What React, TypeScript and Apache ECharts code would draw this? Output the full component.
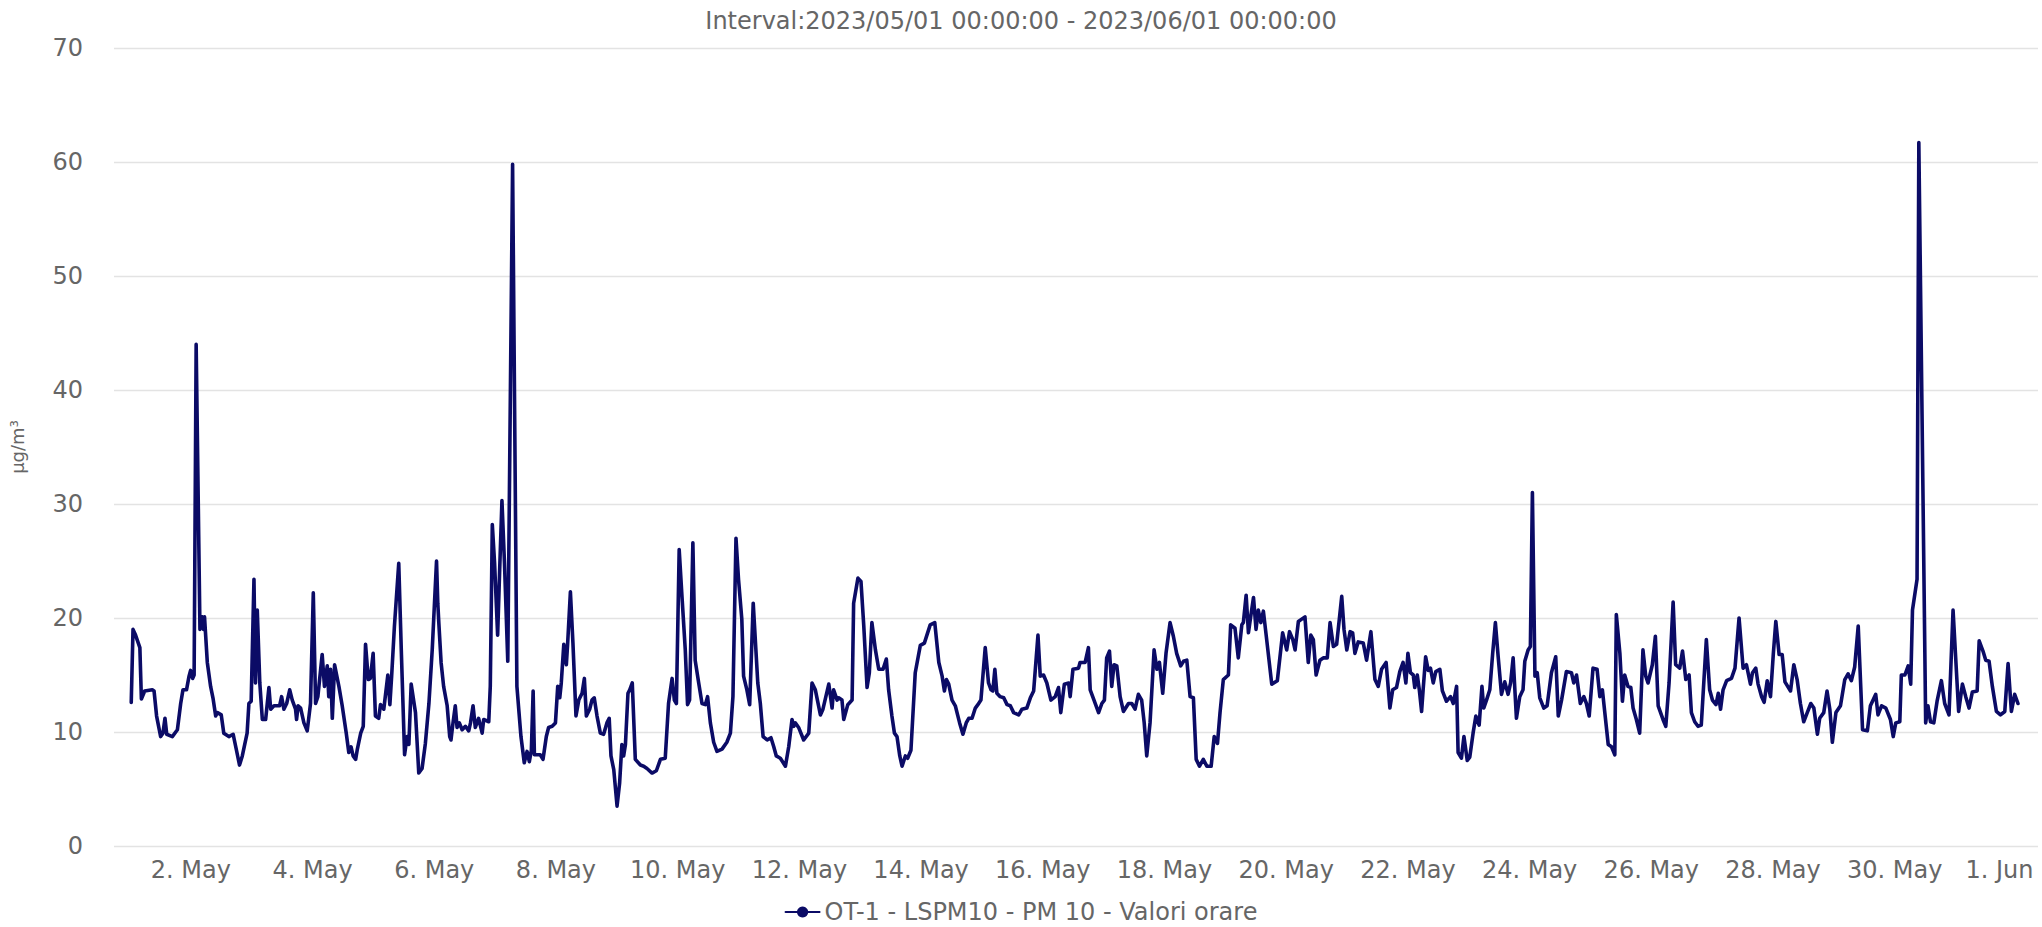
import { useEffect, useRef } from "react";
import * as echarts from "echarts";

// Hour offsets (hours since 2023-05-01 00:00) paired with PM10 values (µg/m³).
const week1: [number, number][] = [
  [0.5,12.6],[1.2,19.0],[2.2,18.5],[3.9,17.4],[4.5,12.9],[5.8,13.6],[8.8,13.7],[9.5,13.6],[10.5,11.4],[12.1,9.6],
  [13.0,9.9],[13.8,11.2],[14.5,9.8],[16.7,9.6],[18.7,10.2],[20.0,12.5],[20.9,13.7],[22.3,13.7],[23.3,14.9],[23.9,15.4],
  [24.7,14.7],[25.3,15.0],[26.1,44.0],[27.6,19.0],[28.5,20.1],[29.0,19.0],[29.4,20.1],[30.5,16.1],[31.8,14.0],[32.8,12.9],
  [33.8,11.4],[34.5,11.7],[36.0,11.5],[37.0,9.9],[39.0,9.6],[40.7,9.8],[42.0,8.4],[43.2,7.1],[44.3,7.9],[46.2,9.9],
  [46.9,12.5],[47.8,12.7],[48.9,23.4],[49.5,14.3],[50.2,20.7],[51.2,14.3],[52.2,11.1],[53.5,11.1],[54.8,13.9],[55.5,12.0],
  [56.8,12.3],[59.0,12.3],[59.8,13.1],[60.7,12.0],[61.8,12.5],[63.0,13.7],[64.0,12.8],[65.3,12.0],[65.7,11.1],[66.3,12.3],
  [67.3,12.1],[68.6,10.8],[69.9,10.1],[71.2,12.5],[72.3,22.2],[73.2,12.5],[74.1,13.1],[75.8,16.8],[76.7,14.0],[77.8,15.8],
  [78.4,13.1],[79.1,15.5],[79.8,11.2],[80.7,15.9],[82.4,14.0],[83.7,12.3],[85.3,9.9],[86.3,8.2],[87.2,8.7],[88.0,7.9],
  [89.0,7.6],[89.6,8.4],[91.0,9.9],[92.0,10.5],[92.9,17.7],[94.0,14.6],[94.8,14.7],[95.9,16.9],[96.8,11.4],[98.1,11.2],
  [98.8,12.4],[100.1,12.0],[101.7,15.0],[102.5,12.4],[103.2,14.9],[104.3,19.3],[106.0,24.8],[107.0,17.2],[108.3,8.0],[109.3,9.6],
  [110.0,8.9],[110.9,14.2],[112.6,11.7],[113.9,6.4],[115.2,6.8],[116.5,9.0],[117.9,12.5],[119.2,17.2],[120.9,25.0],[121.4,21.3],
  [121.8,19.6],[122.7,16.1],[123.7,14.0],[125.1,12.3],[126.1,9.6],[126.6,9.3],[127.4,10.8],[128.3,12.3],[129.0,10.4],[129.9,10.8],
  [131.0,10.2],[132.3,10.5],[133.6,10.1],[134.3,10.8],[135.3,12.3],[136.2,10.4],[137.5,11.2],[138.9,9.9],[139.5,11.1],[141.5,10.9],
  [142.1,14.0],[142.9,28.2],[143.8,24.8],[145.0,18.5],[145.8,24.2],[146.7,30.3],[147.7,24.8],[149.0,16.2],[150.9,59.8],[152.6,14.0],
  [154.2,9.6],[155.5,7.3],[156.6,8.3],[157.5,7.4],[158.3,8.4],[159.0,13.6],[159.5,8.0],[160.5,8.0],[161.8,8.0],[162.9,7.6],
  [164.2,9.6],[165.1,10.4],[166.5,10.5],[167.8,10.8],
];

const week2: [number, number][] = [
  [168.7,14.0],[169.5,13.0],[170.1,14.3],[171.1,17.7],[172.1,15.9],[172.6,17.7],[173.7,22.3],[174.7,17.8],[175.9,11.4],[177.0,12.8],
  [178.3,13.4],[179.2,14.7],[180.0,11.4],[181.3,12.0],[182.2,12.8],[183.1,13.0],[184.2,11.4],[185.5,9.9],[186.8,9.8],[188.1,10.8],
  [189.0,11.2],[189.7,7.9],[190.8,6.7],[192.1,3.5],[193.1,5.5],[194.0,8.9],[194.7,7.9],[195.4,8.9],[196.4,13.4],[197.1,13.7],
  [198.1,14.3],[199.3,7.6],[201.3,7.1],[202.6,7.0],[203.9,6.8],[205.9,6.4],[207.6,6.6],[209.2,7.6],[211.1,7.7],[212.4,12.5],
  [213.8,14.7],[214.7,12.8],[215.5,12.5],[216.6,26.0],[217.7,21.9],[219.0,17.2],[219.9,12.4],[220.7,12.8],[222.0,26.6],[222.9,16.3],
  [224.3,14.3],[225.6,12.5],[226.9,12.4],[227.8,13.1],[228.9,10.8],[230.2,9.1],[231.5,8.3],[233.5,8.5],[235.4,9.1],[236.8,9.9],
  [237.8,13.1],[239.0,27.0],[240.0,23.4],[241.3,19.9],[242.0,14.9],[243.3,13.7],[244.4,12.4],[245.8,21.3],[247.6,14.3],[248.6,12.5],
  [249.7,9.6],[251.3,9.3],[252.8,9.5],[253.9,8.7],[254.9,7.9],[256.5,7.7],[258.5,7.0],[259.8,8.7],[261.1,11.1],[261.8,10.5],
  [262.4,10.8],[263.7,10.4],[265.7,9.3],[267.7,9.9],[269.0,14.3],[270.3,13.7],[272.3,11.5],[273.3,12.0],[275.6,14.2],[276.9,12.1],
  [277.5,13.7],[278.9,12.8],[279.5,13.0],[280.8,12.8],[281.5,11.1],[283.1,12.4],[284.8,12.8],[285.4,21.3],[287.1,23.5],[288.3,23.2],
  [289.4,19.3],[290.7,13.9],[291.6,15.2],[292.6,19.6],[294.0,17.2],[295.3,15.5],[297.0,15.5],[298.3,16.4],[299.2,13.7],[300.5,11.4],
  [301.5,9.9],[302.5,9.6],[303.6,7.9],[304.5,7.0],[305.8,7.9],[306.7,7.7],[308.0,8.4],[309.7,15.2],[311.7,17.6],[313.3,17.8],
  [314.3,18.5],[315.6,19.4],[317.4,19.6],[319.0,16.1],[320.3,14.9],[321.2,13.6],[322.0,14.6],[322.9,14.2],[324.2,12.8],[325.5,12.3],
  [327.2,10.8],[328.5,9.8],[329.8,10.8],[330.8,11.2],[332.1,11.2],[333.4,12.1],[334.4,12.4],[335.6,12.8],
];

const week3: [number, number][] = [
  [337.3,17.4],[338.6,14.3],[339.6,13.7],[340.3,13.6],[341.1,15.5],[341.9,13.4],[343.2,13.1],[344.6,13.0],[345.9,12.4],[347.2,12.3],
  [348.5,11.7],[350.5,11.5],[351.8,12.0],[353.7,12.1],[355.1,13.0],[356.4,13.6],[358.1,18.5],[359.0,14.9],[360.3,15.0],[361.6,14.3],
  [363.2,12.8],[364.9,13.1],[366.2,13.9],[367.1,11.7],[368.5,14.2],[370.2,14.3],[370.8,13.1],[371.9,15.5],[374.1,15.6],[374.7,16.1],
  [376.7,16.1],[378.0,17.4],[378.7,13.7],[380.2,12.8],[382.0,11.7],[383.3,12.5],[384.3,12.8],[385.2,16.5],[386.3,17.1],[387.2,14.0],
  [388.1,15.9],[389.2,15.8],[390.5,13.1],[391.8,11.8],[393.8,12.5],[395.1,12.5],[396.4,12.0],[397.7,13.3],[399.0,12.8],[400.0,10.8],
  [401.0,7.9],[402.3,10.8],[403.9,17.2],[405.0,15.5],[406.0,16.1],[407.3,13.4],[408.6,16.9],[410.2,19.6],[411.5,18.4],[412.8,16.9],
  [414.4,15.8],[415.5,16.2],[416.8,16.3],[418.1,13.1],[419.4,13.0],[420.5,7.6],[421.8,7.0],[423.3,7.6],[424.7,7.0],[426.4,7.0],
  [427.6,9.6],[428.9,9.0],[429.9,11.7],[431.2,14.6],[433.2,15.0],[434.1,19.4],[435.8,19.1],[437.1,16.5],[438.5,19.4],[439.1,19.6],
  [440.2,22.0],[441.1,18.7],[442.0,20.1],[443.1,21.8],[444.1,19.0],[445.0,20.7],[446.0,19.6],[447.0,20.6],[448.3,18.1],[450.3,14.2],
  [452.5,14.5],[454.6,18.7],[456.2,17.2],[457.3,18.8],[458.6,18.1],[459.5,17.2],[460.8,19.7],[462.1,19.9],[463.4,20.1],[464.7,16.1],
  [465.7,18.5],[466.7,18.1],[467.8,15.0],[469.3,16.3],[470.6,16.5],[472.2,16.5],[473.3,19.6],[474.6,17.5],[475.9,17.7],[477.9,21.9],
  [478.8,19.0],[479.9,17.2],[481.2,18.8],[482.2,18.7],[483.1,16.9],[484.4,17.9],[486.4,17.8],[487.7,16.3],[489.4,18.8],[491.0,14.6],
  [492.3,14.0],[493.6,15.5],[495.4,16.1],[496.9,12.1],[498.0,13.7],[499.5,13.9],[500.8,15.3],[502.1,16.1],[503.2,14.3],
];

const week4: [number, number][] = [
  [504.0,16.9],[505.0,15.2],[506.1,15.0],[506.7,13.9],[507.7,15.0],[508.5,13.7],[509.4,11.8],[510.0,13.7],[511.0,16.6],[512.0,15.4],
  [512.9,15.6],[514.0,14.3],[515.0,15.3],[516.6,15.5],[517.6,13.6],[519.2,12.7],[520.8,13.1],[521.9,12.5],[523.2,14.0],[523.8,8.2],
  [525.1,7.7],[526.1,9.6],[527.4,7.5],[528.4,7.8],[529.7,9.9],[530.8,11.4],[532.1,10.6],[533.2,14.0],[533.9,12.1],[535.0,12.8],
  [536.3,13.7],[537.4,16.8],[538.5,19.6],[539.6,16.6],[540.9,13.3],[542.2,14.4],[543.5,13.3],[544.5,14.3],[545.5,16.5],[546.8,11.2],
  [548.1,13.1],[549.4,13.7],[550.1,16.2],[551.4,17.2],[552.3,17.5],[553.1,31.0],[554.1,14.9],[555.0,15.2],[556.0,13.0],[557.6,12.1],
  [558.9,12.3],[560.6,15.2],[562.3,16.6],[563.3,11.4],[564.6,12.8],[566.5,15.3],[568.5,15.2],[569.4,14.3],[570.5,15.0],[572.0,12.5],
  [573.4,13.1],[574.4,12.5],[575.5,11.4],[577.0,15.6],[578.6,15.5],[579.7,13.1],[580.7,13.7],[583.0,8.9],[584.3,8.7],[585.6,8.0],
  [586.2,20.3],[587.6,16.9],[588.6,12.7],[589.5,15.0],[590.8,14.0],[591.9,13.9],[592.8,12.1],[594.1,11.1],[595.4,9.9],[596.7,17.2],
  [597.8,14.9],[598.7,14.3],[600.4,15.9],[601.6,18.4],[602.7,12.3],[604.6,11.1],[605.7,10.5],[607.0,14.3],[608.6,21.4],[609.6,15.9],
  [611.2,15.6],[612.3,17.1],[613.6,14.6],[614.9,15.0],[615.8,11.7],[617.1,10.9],[618.4,10.5],[619.7,10.6],[621.7,18.1],[623.0,13.7],
  [624.1,12.8],[625.5,12.4],[626.4,13.4],[627.3,12.0],[628.3,13.7],[629.7,14.5],[631.6,14.7],[633.0,15.6],[634.6,20.0],[636.2,15.6],
  [637.5,15.9],[639.1,14.2],[639.9,15.2],[641.2,15.6],[642.1,14.2],[643.5,13.1],[644.5,12.6],[645.7,14.5],[647.0,13.1],[648.1,16.8],
  [649.1,19.7],[650.4,16.8],[651.6,16.8],[652.7,14.4],[654.9,13.6],[656.2,15.9],[657.5,14.6],[658.8,12.5],[660.1,10.9],[661.5,11.7],
  [662.9,12.5],[664.1,12.1],[665.5,9.8],[666.4,11.2],[668.0,11.7],[669.3,13.6],[670.4,12.0],[671.4,9.1],
];

const week5: [number, number][] = [
  [672.8,11.7],[674.6,12.3],[676.3,14.6],[677.6,15.1],[678.9,14.5],[680.2,15.7],[681.6,19.3],[683.3,10.2],[685.2,10.1],[686.4,12.3],
  [688.5,13.3],[689.4,11.5],[690.8,12.3],[692.5,12.1],[694.3,11.1],[695.4,9.6],[696.4,10.8],[698.0,10.9],[698.6,15.0],[700.0,15.0],
  [701.3,15.8],[702.3,14.2],[703.0,20.7],[704.8,23.4],[705.5,61.7],[708.2,10.8],[709.1,12.3],[710.1,10.9],[711.4,10.8],[712.7,12.7],
  [714.4,14.5],[715.7,12.5],[717.4,11.5],[719.0,20.7],[721.2,11.8],[722.7,14.2],[724.0,13.1],[725.3,12.1],[726.6,13.5],[728.5,13.6],
  [729.3,18.0],[730.8,17.1],[731.9,16.3],[733.2,16.2],[734.5,14.0],[736.1,11.8],[737.7,11.5],[739.4,11.8],[740.7,16.0],[742.0,11.8],
  [743.3,13.3],[744.6,12.5],
];

// X tick positions (hours since 1 May) for the labels 2. May ... 30. May, 1. Jun
const tickHours = [24, 72, 120, 168, 216, 264, 312, 360, 408, 456, 504, 552, 600, 648, 696, 744];
const yTicks = { min: 0, max: 70, step: 10 };

const TITLE = "Interval:2023/05/01 00:00:00 - 2023/06/01 00:00:00";
const SERIES_NAME = "OT-1 - LSPM10 - PM 10 - Valori orare";
const UNIT = "µg/m³";

const FONT = '"DejaVu Sans", "Liberation Sans", sans-serif';
const NAVY = "#0b0b66";
const GREY = "#666666";

function labelFor(h: number): string {
  const day = Math.round(h / 24) + 1;
  if (day <= 31) return `${day}. May`;
  return `{last|${day - 31}. Jun}`;
}

export default function App() {
  const ref = useRef<HTMLDivElement>(null);

  useEffect(() => {
    if (!ref.current) return;
    const chart = echarts.init(ref.current, null, { renderer: "svg" });
    const data = [...week1, ...week2, ...week3, ...week4, ...week5];
    chart.setOption({
      animation: false,
      backgroundColor: "#ffffff",
      title: {
        text: TITLE,
        left: "center",
        top: 4,
        textStyle: { fontFamily: FONT, fontSize: 24, fontWeight: "normal", color: GREY },
      },
      legend: {
        data: [SERIES_NAME],
        left: "center",
        top: 899,
        padding: 0,
        itemWidth: 34,
        itemHeight: 14,
        itemGap: 10,
        textStyle: { fontFamily: FONT, fontSize: 24, color: GREY, lineHeight: 26 },
      },
      grid: { left: 113, right: 4, top: 48, bottom: 81 },
      xAxis: {
        type: "value",
        min: -6.3,
        max: 752.5,
        axisLine: { show: false },
        axisTick: { show: false },
        splitLine: { show: false },
        axisLabel: {
          customValues: tickHours,
          formatter: (v: number) => labelFor(v),
          fontFamily: FONT,
          fontSize: 24,
          color: GREY,
          margin: 12,
          rich: {
            last: { fontFamily: FONT, fontSize: 24, color: GREY, padding: [0, 34, 0, 0] },
          },
        },
      },
      yAxis: {
        type: "value",
        min: yTicks.min,
        max: yTicks.max,
        interval: yTicks.step,
        name: UNIT,
        nameLocation: "middle",
        nameGap: 88,
        nameTextStyle: { fontFamily: FONT, fontSize: 18, color: GREY },
        axisLine: { show: false },
        axisTick: { show: false },
        axisLabel: { fontFamily: FONT, fontSize: 24, color: GREY, margin: 31 },
        splitLine: { lineStyle: { color: "#e3e3e3", width: 1.3 } },
      },
      series: [
        {
          type: "line",
          name: SERIES_NAME,
          data,
          showSymbol: false,
          symbol: "circle",
          symbolSize: 13,
          color: NAVY,
          itemStyle: { color: NAVY },
          lineStyle: { color: NAVY, width: 3.6, join: "round", cap: "round" },
        },
      ],
    });
    return () => chart.dispose();
  }, []);

  return (
    <div
      ref={ref}
      style={{ position: "absolute", left: 0, top: 0, width: 2042, height: 927, background: "#ffffff" }}
    />
  );
}
